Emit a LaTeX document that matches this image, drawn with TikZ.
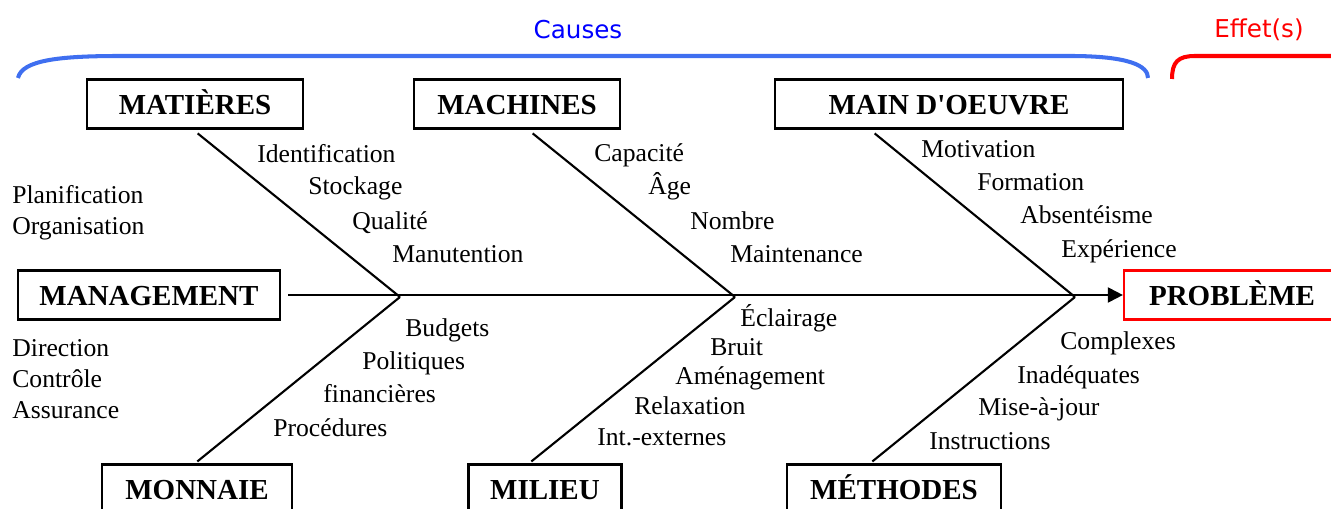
\documentclass[tikz,border=0pt]{standalone}
\usepackage{fontspec}
\setmainfont{Liberation Serif}
\newfontfamily\handfont{DejaVu Sans}
\usetikzlibrary{arrows.meta}
\definecolor{causeblue}{HTML}{3F6FF0}
\definecolor{effetred}{HTML}{FF0000}

\begin{document}
\begin{tikzpicture}[x=0.02cm, y=-0.02cm, font=\fontsize{14.6}{16}\selectfont,
    catbox/.style={draw, line width=1.3pt, minimum height=0.98cm, inner sep=0pt, text height=11.4pt, text depth=0pt, font=\fontsize{16.5}{18}\selectfont\bfseries},
    cause/.style={anchor=west, inner sep=0pt, text height=1.6ex, text depth=0.4ex},
    bone/.style={line width=1.2pt}]
\useasboundingbox (0,0) rectangle (1331,509);
% titles and braces
\node[font=\handfont\fontsize{14}{16}\selectfont, text=blue] (causes) at (578,30) {Causes};
\node[font=\handfont\fontsize{14}{16}\selectfont, text=effetred] (effet) at (1259,30) {Effet(s)};
\draw[causeblue, line width=2.3pt] (18,78) .. controls (22,60) and (60,56) .. (120,56) -- (1070,56) .. controls (1130,56) and (1148,66) .. (1148,78);
\draw[effetred, line width=2.3pt] (1172,79) .. controls (1172,62) and (1178,56) .. (1195,56) -- (1340,56);
% category boxes
\node[catbox, minimum width=4.32cm] (mat) at (195,104) {MATIÈRES};
\node[catbox, minimum width=4.12cm] (mach) at (517,104) {MACHINES};
\node[catbox, minimum width=6.96cm] (mo) at (949,104) {MAIN D\textquotesingle OEUVRE};
\node[catbox, minimum width=5.24cm] (mgmt) at (149,295) {MANAGEMENT};
\node[catbox, minimum width=4.32cm, draw=effetred] (prob) at (1232,295) {PROBLÈME};
\node[catbox, minimum width=3.8cm] (mon) at (197,489) {MONNAIE};
\node[catbox, minimum width=3.06cm] (mil) at (545,489) {MILIEU};
\node[catbox, minimum width=4.28cm] (meth) at (894,489) {MÉTHODES};
% spine and bones
\coordinate (j1) at (400,297);
\coordinate (j2) at (735,297);
\coordinate (j3) at (1075,297);
\draw[bone, -{Triangle[length=0.3cm, width=0.3cm]}, shorten <=0.14cm] (mgmt) -- (prob);
\draw[bone, shorten <=0.12cm] ([xshift=-0.04cm]mat.south) -- (j1);
\draw[bone, shorten <=0.12cm] ([xshift=0.22cm]mach.south) -- (j2);
\draw[bone, shorten <=0.12cm] ([xshift=-1.58cm]mo.south) -- (j3);
\draw[bone, shorten >=0.06cm] (j1) -- ([xshift=-0.04cm]mon.north);
\draw[bone, shorten >=0.06cm] (j2) -- ([xshift=-0.32cm]mil.north);
\draw[bone, shorten >=0.06cm] (j3) -- ([xshift=-0.48cm]meth.north);
% causes
\node[cause] (c11) at (257,158) {Identification};
\node[cause] (c12) at (308,190) {Stockage};
\node[cause] (c13) at (352,225) {Qualité};
\node[cause] (c14) at (392,258) {Manutention};
\node[cause] (c21) at (594,157) {Capacité};
\node[cause] (c22) at (648,190) {Âge};
\node[cause] (c23) at (690,225) {Nombre};
\node[cause] (c24) at (730,258) {Maintenance};
\node[cause] (c31) at (921,153) {Motivation};
\node[cause] (c32) at (977,186) {Formation};
\node[cause] (c33) at (1020,219) {Absentéisme};
\node[cause] (c34) at (1061,253) {Expérience};
\node[cause] (c41) at (12,199) {Planification};
\node[cause] (c42) at (12,230) {Organisation};
\node[cause] (c43) at (12,352) {Direction};
\node[cause] (c44) at (12,383) {Contrôle};
\node[cause] (c45) at (12,414) {Assurance};
\node[cause] (c51) at (405,332) {Budgets};
\node[cause] (c52) at (362,365) {Politiques};
\node[cause] (c53) at (323,398) {financières};
\node[cause] (c54) at (273,432) {Procédures};
\node[cause] (c61) at (740,322) {Éclairage};
\node[cause] (c62) at (710,351) {Bruit};
\node[cause] (c63) at (675,380) {Aménagement};
\node[cause] (c64) at (634,410) {Relaxation};
\node[cause] (c65) at (597,441) {Int.-externes};
\node[cause] (c71) at (1060,345) {Complexes};
\node[cause] (c72) at (1017,379) {Inadéquates};
\node[cause] (c73) at (978,411) {Mise-à-jour};
\node[cause] (c74) at (929,445) {Instructions};
\end{tikzpicture}
\end{document}
